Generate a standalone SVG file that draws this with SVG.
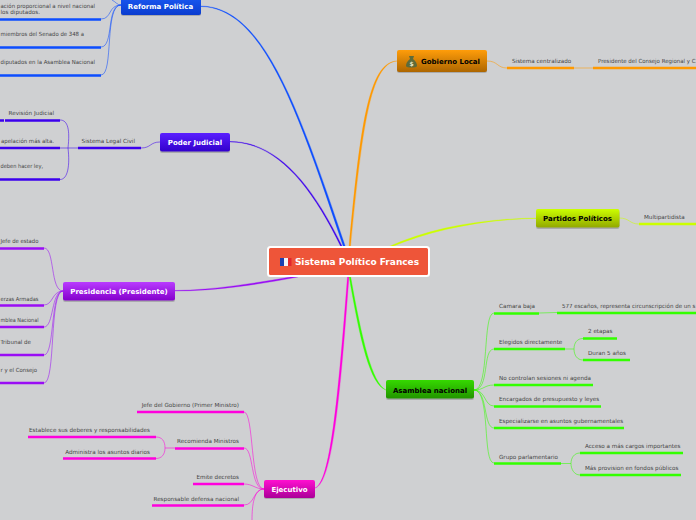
<svg xmlns="http://www.w3.org/2000/svg" width="696" height="520" viewBox="0 0 696 520">
<style>
.t{font-family:"DejaVu Sans",Verdana,sans-serif;font-size:5.65px;fill:#444}
.e{text-anchor:end}
.n{font-family:"DejaVu Sans",Verdana,sans-serif;font-size:7px;font-weight:bold;text-anchor:middle}
.w{fill:#fff}.k{fill:#000}
.s{fill:#000;opacity:.18}
.l{fill:none;stroke-width:2.5}
.c{fill:none;stroke-width:1;opacity:.55}
.blue{stroke:#0d4dff}.ind{stroke:#3d00ee}.pur{stroke:#9a0df5}.mag{stroke:#ff00dd}.grn{stroke:#33ff00}.org{stroke:#ff9900}.yel{stroke:#ccff00}
</style>
<defs>
<linearGradient id="gB" x1="0" y1="0" x2="0" y2="1"><stop offset="0" stop-color="#1f63ff"/><stop offset="1" stop-color="#0a3ccf"/></linearGradient>
<linearGradient id="gI" x1="0" y1="0" x2="0" y2="1"><stop offset="0" stop-color="#5a1fff"/><stop offset="1" stop-color="#3200cc"/></linearGradient>
<linearGradient id="gP" x1="0" y1="0" x2="0" y2="1"><stop offset="0" stop-color="#b93bff"/><stop offset="1" stop-color="#8400cc"/></linearGradient>
<linearGradient id="gM" x1="0" y1="0" x2="0" y2="1"><stop offset="0" stop-color="#ff0fd0"/><stop offset="1" stop-color="#aa0098"/></linearGradient>
<linearGradient id="gG" x1="0" y1="0" x2="0" y2="1"><stop offset="0" stop-color="#35d900"/><stop offset="1" stop-color="#229400"/></linearGradient>
<linearGradient id="gY" x1="0" y1="0" x2="0" y2="1"><stop offset="0" stop-color="#ccff00"/><stop offset="1" stop-color="#92a800"/></linearGradient>
<linearGradient id="gO" x1="0" y1="0" x2="0" y2="1"><stop offset="0" stop-color="#ff9d0a"/><stop offset="1" stop-color="#ad6600"/></linearGradient>
</defs>
<rect width="696" height="520" fill="#cfd0d2"/>
<g id="connectors">
<path d="M200 6C262 6 296 100 345.500 247L343.500 247C296 105 262 6.800 200 6.500Z" fill="#0d4dff" stroke="#0d4dff" stroke-width=".3"/>
<path d="M230 141.500C275 141.500 310 180 342.500 247L341 247C310 183 275 142 230 142Z" fill="#3d00ee" stroke="#3d00ee" stroke-width=".3"/>
<path d="M397 61C370 63 362 130 350.500 247L349 247C360 130 368 62 397 61Z" fill="#ff9900" stroke="#ff9900" stroke-width=".3"/>
<path d="M536 218C480 219 430 228 388 247L391 247C432 230 482 219.500 536 218.400Z" fill="#ccff00" stroke="#ccff00" stroke-width=".3"/>
<path d="M175 291C215 291 255 285 298 277L298 275.800C255 283 215 290 175 290.500Z" fill="#9a0df5" stroke="#9a0df5" stroke-width=".3"/>
<path d="M315 488C332 484 340 400 349 276L347.500 276C338 400 330 483 315 488Z" fill="#ff00dd" stroke="#ff00dd" stroke-width=".3"/>
<path d="M386 390C370 385 360 340 349 276L350.500 276C362 340 372 383 386 390Z" fill="#33ff00" stroke="#33ff00" stroke-width=".3"/>

<path class="c blue" d="M121 5C108 5 112 19 101 19"/>
<path class="c blue" d="M121 5C106 5 114 47 101 47"/>
<path class="c blue" d="M121 5C104 5 114 75 101 75"/>
<path class="c blue" d="M121 5C117 5 116 2 112 0"/>
<path class="c ind" d="M160 142C150 142 151 148 141 148"/>
<path class="c ind" d="M78 148L60 148"/>
<path class="c ind" d="M68 148C70 130 68 120 60 120"/>
<path class="c ind" d="M68 148C70 165 68 179.500 60 179.500"/>
<path class="c pur" d="M63 291C50 291 55 248 44 248"/>
<path class="c pur" d="M63 291C52 291 53 305 44 305"/>
<path class="c pur" d="M63 291C51 291 54 327 44 327"/>
<path class="c pur" d="M63 291C50 291 55 355 44 355"/>
<path class="c pur" d="M63 291C49 291 56 383 44 383"/>
<path class="c mag" d="M264 489C250 489 254 412 244 412"/>
<path class="c mag" d="M264 489C250 489 254 448 244 448"/>
<path class="c mag" d="M264 489C255 489 253 484 244 484"/>
<path class="c mag" d="M264 489C253 489 255 505 244 505"/>
<path class="c mag" d="M264 489C254 489 252 505 252 520"/>
<path class="c mag" d="M175 448L165 448"/>
<path class="c mag" d="M165 448C165 441 162 437 156 437"/>
<path class="c mag" d="M165 448C165 454 162 458.500 156 458.500"/>
<path class="c grn" d="M474 390C490 390 482 313 494 313"/>
<path class="c grn" d="M474 390C490 390 482 349 494 349"/>
<path class="c grn" d="M474 390C484 390 484 385 494 385"/>
<path class="c grn" d="M474 390C486 390 484 406 494 406"/>
<path class="c grn" d="M474 390C488 390 483 428 494 428"/>
<path class="c grn" d="M474 390C491 390 482 463 494 463"/>
<path class="c grn" d="M539 313L557 312.500"/>
<path class="c grn" d="M565 349L574 349"/>
<path class="c grn" d="M574 349C574 343 577 338.500 583 338.500"/>
<path class="c grn" d="M574 349C574 355 577 360 583 360"/>
<path class="c grn" d="M561 463.500L571 463.500"/>
<path class="c grn" d="M571 463.500C571 458 574 453 580 453"/>
<path class="c grn" d="M571 463.500C571 469 574 475 580 475"/>
<path class="c org" d="M487 61C498 61 497 68 507 68"/>
<path class="c org" d="M574 68L593 68"/>
<path class="c yel" d="M619 218C630 218 629 224 639 224"/>

<path class="l blue" d="M-2 19.500H101M-2 47.500H101M-2 75.500H101"/>
<path class="l ind" d="M78 148H141M5 120.500H60M-2 148H60M-2 179.500H60M-2 120.500H4"/>
<path class="l pur" d="M-2 248.500H44M-2 305.500H44M-2 327H44M-2 355H44M-2 383H44"/>
<path class="l mag" d="M137 412H244M175 448.500H244M28 437H156M63 458.500H156M193 484H244M152 505.500H244"/>
<path class="l grn" d="M494 313.500H539M557 313H698M494 349H565M583 338.500H617M583 360H630M494 385H593M494 406.500H601M494 428H624M494 463.500H561M580 453H683M580 475H681"/>
<path class="l org" d="M507 68H574M593 68H698"/>
<path class="l yel" d="M639 224H698"/>
</g>

<g id="central">
<rect x="268" y="247" width="161" height="29" rx="2.500" fill="#ee5539" stroke="#fff" stroke-width="2"/>
<rect x="280" y="258" width="4" height="8" fill="#1a3fb0"/><rect x="284" y="258" width="4" height="8" fill="#f2f2f6"/><rect x="288" y="258" width="3.500" height="8" fill="#e3262c"/>
<text class="n w" x="357" y="265" style="font-size:9px">Sistema Político Frances</text>
</g>
<g id="reforma-politica">
<rect class="s" x="121" y="-8" width="80" height="24" rx="2"/>
<rect x="121" y="-10" width="80" height="25" rx="2" fill="url(#gB)"/>
<text class="n w" x="160.500" y="9">Reforma Política</text>
</g>
<g id="poder-judicial">
<rect class="s" x="160" y="135" width="70" height="18" rx="2"/>
<rect x="160" y="133" width="70" height="18.500" rx="2" fill="url(#gI)"/>
<text class="n w" x="195" y="145">Poder Judicial</text>
</g>
<g id="presidencia">
<rect class="s" x="63" y="284" width="112" height="18" rx="2"/>
<rect x="63" y="282" width="112" height="18.500" rx="2" fill="url(#gP)"/>
<text class="n w" x="119" y="294">Presidencia (Presidente)</text>
</g>
<g id="ejecutivo">
<rect class="s" x="264" y="482" width="51" height="17" rx="2"/>
<rect x="264" y="480" width="51" height="18" rx="2" fill="url(#gM)"/>
<text class="n w" x="289.500" y="492">Ejecutivo</text>
</g>
<g id="asamblea-nacional">
<rect class="s" x="386" y="382" width="88" height="18" rx="2"/>
<rect x="386" y="380" width="88" height="18.500" rx="2" fill="url(#gG)"/>
<text class="n k" x="430" y="392.500">Asamblea nacional</text>
</g>
<g id="partidos-politicos">
<rect class="s" x="536" y="211" width="83.500" height="18" rx="2"/>
<rect x="536" y="209" width="83.500" height="18.500" rx="2" fill="url(#gY)"/>
<text class="n k" x="577.500" y="221">Partidos Políticos</text>
</g>
<g id="gobierno-local">
<rect class="s" x="397" y="52" width="90" height="21" rx="2"/>
<rect x="397" y="50" width="90" height="22" rx="2" fill="url(#gO)"/>
<path d="M409 56H414L413 59C416 61 417 64 417 66C417 68 406 68 406 66C406 64 407 61 410 59Z" fill="#5d6b3a"/>
<text x="411.500" y="65.500" style="font-family:'DejaVu Sans',sans-serif;font-size:6px;font-weight:bold;text-anchor:middle" fill="#e8e6c8">$</text>
<text class="n k" x="450.500" y="64">Gobierno Local</text>
</g>

<g id="labels">
<text class="t" x="0.500" y="8" textLength="94.500" lengthAdjust="spacingAndGlyphs">ación proporcional a nivel nacional</text>
<text class="t" x="0.500" y="14">los diputados.</text>
<text class="t" x="0.500" y="36" textLength="83.500" lengthAdjust="spacingAndGlyphs">miembros del Senado de 348 a</text>
<text class="t" x="0.500" y="64" textLength="94.500" lengthAdjust="spacingAndGlyphs">diputados en la Asamblea Nacional</text>
<text class="t e" x="54" y="115">Revisión Judicial</text>
<text class="t" x="1" y="143" textLength="53" lengthAdjust="spacingAndGlyphs">apelación más alta.</text>
<text class="t" x="0.500" y="168" textLength="42.500" lengthAdjust="spacingAndGlyphs">deben hacer ley,</text>
<text class="t e" x="135" y="143">Sistema Legal Civil</text>
<text class="t" x="0.500" y="243" textLength="38" lengthAdjust="spacingAndGlyphs">Jefe de estado</text>
<text class="t" x="0.500" y="301" textLength="38" lengthAdjust="spacingAndGlyphs">erzas Armadas</text>
<text class="t" x="0.500" y="322" textLength="38" lengthAdjust="spacingAndGlyphs">mblea Nacional</text>
<text class="t" x="0.500" y="344" textLength="30.500" lengthAdjust="spacingAndGlyphs">Tribunal de</text>
<text class="t" x="0.500" y="372" textLength="36.500" lengthAdjust="spacingAndGlyphs">r y el Consejo</text>
<text class="t e" x="239" y="407">Jefe del Gobierno (Primer Ministro)</text>
<text class="t e" x="150" y="432">Establece sus deberes y responsabilidades</text>
<text class="t e" x="150" y="454">Administra los asuntos diarios</text>
<text class="t e" x="239" y="443">Recomienda Ministros</text>
<text class="t e" x="239" y="479">Emite decretos</text>
<text class="t e" x="239" y="501">Responsable defensa nacional</text>
<text class="t" x="499" y="308">Camara baja</text>
<text class="t" x="562" y="308" textLength="133.500" lengthAdjust="spacingAndGlyphs">577 escaños, representa circunscripción de un s</text>
<text class="t" x="499" y="344">Elegidos directamente</text>
<text class="t" x="588" y="333">2 etapas</text>
<text class="t" x="588" y="355">Duran 5 años</text>
<text class="t" x="499" y="380">No controlan sesiones ni agenda</text>
<text class="t" x="499" y="401">Encargados de presupuesto y leyes</text>
<text class="t" x="499" y="423">Especializarse en asuntos gubernamentales</text>
<text class="t" x="499" y="459">Grupo parlamentario</text>
<text class="t" x="585" y="448">Acceso a más cargos importantes</text>
<text class="t" x="585" y="470">Más provision en fondos públicos</text>
<text class="t" x="512" y="63">Sistema centralizado</text>
<text class="t" x="598" y="63" textLength="97.500" lengthAdjust="spacingAndGlyphs">Presidente del Consejo Regional y C</text>
<text class="t" x="644" y="219">Multipartidista</text>
</g>
</svg>
